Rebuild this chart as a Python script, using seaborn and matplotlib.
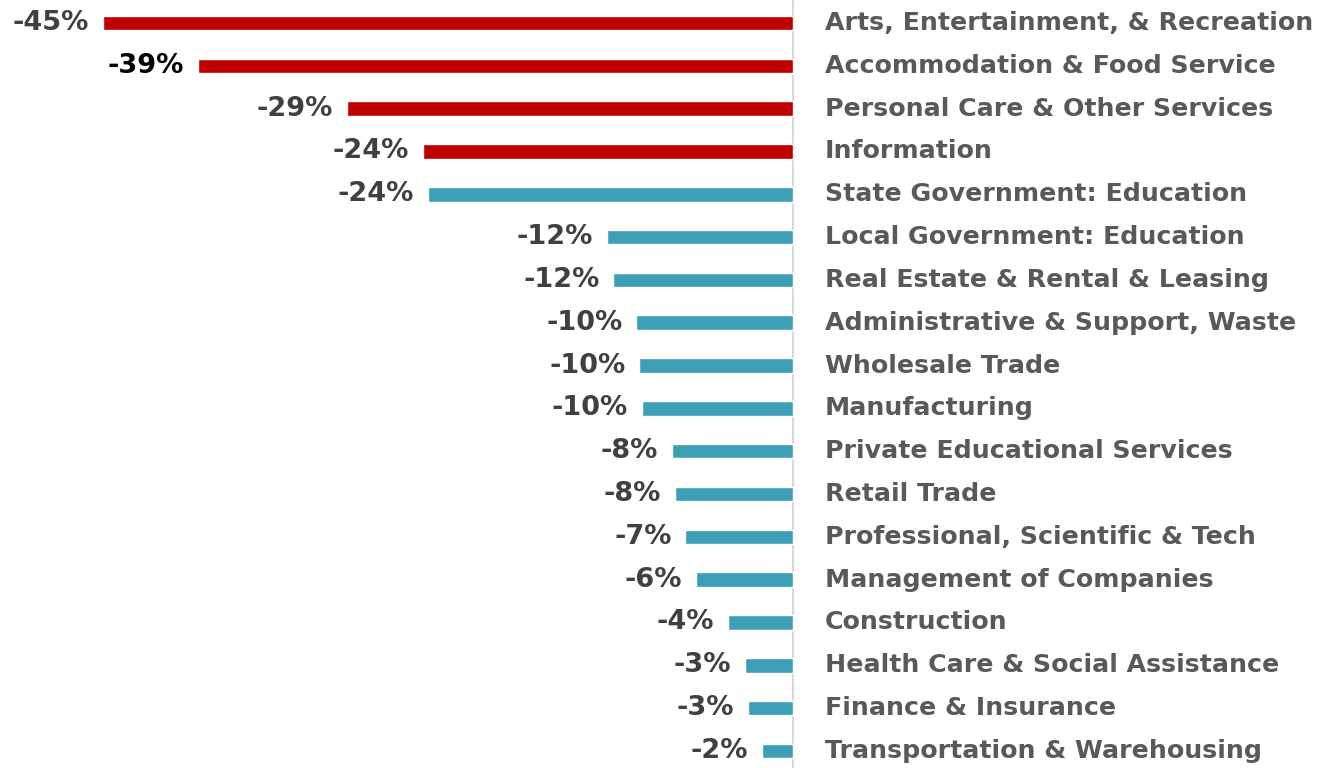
import matplotlib
matplotlib.use("Agg")
import matplotlib.pyplot as plt
import seaborn as sns
import pandas as pd

# 行业列表 (从上到下)
industries = [
    "Arts, Entertainment, & Recreation",
    "Accommodation & Food Service",
    "Personal Care & Other Services",
    "Information",
    "State Government: Education",
    "Local Government: Education",
    "Real Estate & Rental & Leasing",
    "Administrative & Support, Waste",
    "Wholesale Trade",
    "Manufacturing",
    "Private Educational Services",
    "Retail Trade",
    "Professional, Scientific & Tech",
    "Management of Companies",
    "Construction",
    "Health Care & Social Assistance",
    "Finance & Insurance",
    "Transportation & Warehousing",
]
# 就业变化 (%)
change_pct = [-45.0, -38.8, -29.1, -24.1, -23.8, -12.1, -11.7, -10.2, -10.0, -9.85,
              -7.9, -7.7, -7.0, -6.3, -4.2, -3.1, -2.9, -2.0]
# 重点行业数量 (红色)
n_highlight = 4

RED = "#C00000"
TEAL = "#3D9FB6"

sns.set_theme(style="white")
plt.rcParams['font.family'] = ['DejaVu Sans']

df = pd.DataFrame({"industry": industries, "change": change_pct})
palette = [RED if i < n_highlight else TEAL for i in range(len(industries))]

fig = plt.figure(figsize=(13.34, 7.68), dpi=100)
ax = fig.add_axes([0, 0, 1, 1])
sns.barplot(data=df, y="industry", x="change", hue="industry", palette=palette,
            orient="h", width=0.34, legend=False, ax=ax, saturation=1)

ax.set_xlim(-51.7, 35.3)
ax.set_ylim(17.40, -0.537)
ax.axvline(0, color="#D9D9D9", lw=1.5, zorder=0)

for i, (name, v) in enumerate(zip(industries, change_pct)):
    ax.text(2.1, i, name, ha="left", va="center", fontsize=18.2,
            fontweight="bold", color="#595959")
    col = "black" if i == 1 else "#404040"
    ax.annotate(f"{round(v):d}%", xy=(v, i), xytext=(-10, 0), textcoords="offset points",
                ha="right", va="center", fontsize=19.5, fontweight="bold", color=col)

ax.set_axis_off()
fig.savefig("out.png", dpi=100)
